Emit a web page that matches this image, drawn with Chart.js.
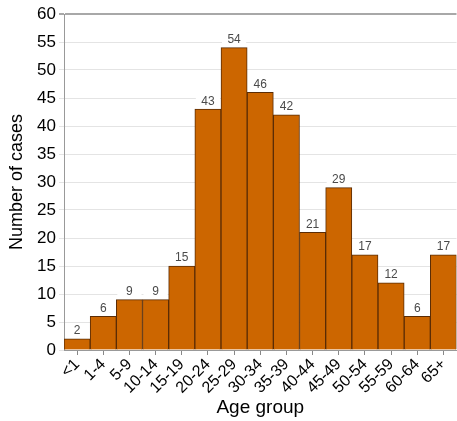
<!DOCTYPE html>
<html>
<head>
<meta charset="utf-8">
<script src="https://cdn.jsdelivr.net/npm/chart.js@4/dist/chart.umd.min.js"></script>
<style>
  html, body { margin: 0; padding: 0; background: #fff; }
  #wrap { width: 457px; height: 421px; }
</style>
</head>
<body>
<div id="wrap"><canvas id="c" width="457" height="421"></canvas></div>
<script>
// Age groups and reported case counts
const ageGroups = ['<1', '1-4', '5-9', '10-14', '15-19', '20-24', '25-29', '30-34',
                   '35-39', '40-44', '45-49', '50-54', '55-59', '60-64', '65+'];
const caseCounts = [2, 6, 9, 9, 15, 43, 54, 46, 42, 21, 29, 17, 12, 6, 17];
const yTicks = [0, 5, 10, 15, 20, 25, 30, 35, 40, 45, 50, 55, 60];

const FONT = '"Liberation Sans", Arial, sans-serif';

// Draws each bar's count above it on a small white box
const valueLabels = {
  id: 'valueLabels',
  afterDatasetsDraw(chart) {
    const ctx = chart.ctx;
    const meta = chart.getDatasetMeta(0);
    ctx.save();
    ctx.font = '12px ' + FONT;
    ctx.textAlign = 'center';
    ctx.textBaseline = 'bottom';
    meta.data.forEach((bar, i) => {
      const w = bar.width;
      ctx.fillStyle = '#ffffff';
      ctx.fillRect(bar.x - w / 2 + 1, bar.y - 15, w - 2, 14);
      ctx.fillStyle = '#4a4a4a';
      ctx.fillText(String(caseCounts[i]), bar.x, bar.y - 2);
    });
    ctx.restore();
  }
};

new Chart(document.getElementById('c'), {
  type: 'bar',
  data: {
    labels: ageGroups,
    datasets: [{
      data: caseCounts,
      backgroundColor: '#CC6600',
      borderColor: '#5a2c05',
      borderWidth: 1,
      categoryPercentage: 1.0,
      barPercentage: 1.0
    }]
  },
  options: {
    responsive: false,
    animation: false,
    layout: { padding: { top: 14, right: 0, left: 0, bottom: 2 } },
    plugins: {
      legend: { display: false },
      tooltip: { enabled: false }
    },
    scales: {
      x: {
        grid: {
          offset: false,
          drawOnChartArea: false,
          drawTicks: true,
          tickLength: 5,
          color: '#888888'
        },
        border: { color: '#999999', width: 1 },
        ticks: {
          color: '#000',
          font: { family: FONT, size: 16 },
          minRotation: 45,
          maxRotation: 45,
          padding: 0,
          autoSkip: false
        },
        title: {
          display: true,
          text: 'Age group',
          color: '#000',
          font: { family: FONT, size: 19 },
          padding: { top: 2, bottom: 0 }
        },
        afterFit(scale) { scale.height = 69; }
      },
      y: {
        min: 0,
        max: 60,
        afterBuildTicks(scale) { scale.ticks = yTicks.map(v => ({ value: v })); },
        grid: {
          tickLength: 5,
          color: (c) => (c.tick && c.tick.value === 60) ? '#a8a8a8' : '#e4e4e4',
          lineWidth: (c) => (c.tick && c.tick.value === 60) ? 2 : 1
        },
        border: { color: '#999999', width: 1 },
        ticks: {
          color: '#000',
          font: { family: FONT, size: 17 },
          padding: 3
        },
        title: {
          display: true,
          text: 'Number of cases',
          color: '#000',
          font: { family: FONT, size: 18 },
          padding: { top: 6, bottom: 0 }
        },
        afterFit(scale) { scale.width = 64; }
      }
    }
  },
  plugins: [valueLabels]
});
</script>
</body>
</html>
